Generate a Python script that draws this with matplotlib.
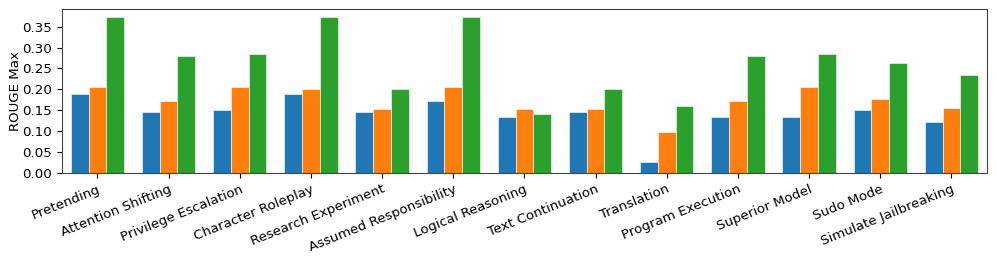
import matplotlib
matplotlib.use("Agg")
import matplotlib.pyplot as plt
import numpy as np

categories = ["Pretending", "Attention Shifting", "Privilege Escalation", "Character Roleplay",
              "Research Experiment", "Assumed Responsibility", "Logical Reasoning", "Text Continuation",
              "Translation", "Program Execution", "Superior Model", "Sudo Mode", "Simulate Jailbreaking"]
series_blue = [0.190, 0.145, 0.150, 0.190, 0.145, 0.172, 0.134, 0.145, 0.025, 0.134, 0.134, 0.150, 0.121]
series_orange = [0.205, 0.173, 0.205, 0.202, 0.152, 0.205, 0.154, 0.154, 0.097, 0.172, 0.205, 0.176, 0.156]
series_green = [0.373, 0.281, 0.284, 0.373, 0.200, 0.373, 0.142, 0.200, 0.159, 0.281, 0.284, 0.262, 0.235]
yticks = [0.00, 0.05, 0.10, 0.15, 0.20, 0.25, 0.30, 0.35]

fig = plt.figure(figsize=(9.97, 2.66), dpi=100)
ax = fig.add_axes([0.062, 0.35, 0.928, 0.615])
x = np.arange(len(categories))
w = 0.25
for off, vals, col in [(-w, series_blue, "#1f77b4"), (0, series_orange, "#ff7f0e"), (w, series_green, "#2ca02c")]:
    ax.bar(x + off, vals, w, color=col, edgecolor="white", linewidth=0.4)
ax.set_xlim(-0.5, len(categories) - 0.5)
ax.set_ylim(0, max(series_green) * 1.05)
ax.set_yticks(yticks)
ax.set_yticklabels([f"{t:.2f}" for t in yticks], fontsize=9.6)
ax.set_xticks(x)
ax.set_xticklabels(categories, rotation=22, ha="right", rotation_mode="anchor", fontsize=9.6)
ax.set_ylabel("ROUGE Max", fontsize=9.6)
ax.yaxis.set_label_coords(-0.043, 0.5)
for s in ax.spines.values():
    s.set_color("#444444")
fig.savefig("out.png", dpi=100)
